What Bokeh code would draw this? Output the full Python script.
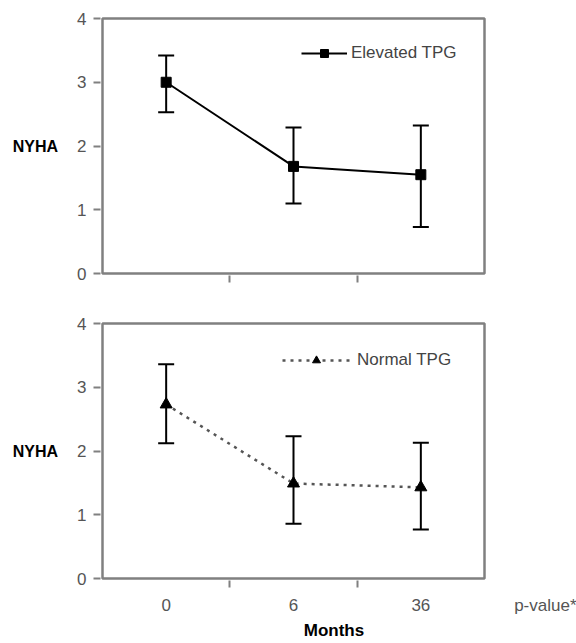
from bokeh.plotting import figure
from bokeh.layouts import column
from bokeh.models import (ColumnDataSource, Whisker, TeeHead, Range1d, FixedTicker,
                          Legend, LegendItem, BoxAnnotation)
from bokeh.embed import file_html
from bokeh.resources import INLINE

# ---- data ----
months = ["0", "6", "36"]
elevated_mean = [3.00, 1.68, 1.55]
elevated_lower = [2.53, 1.10, 0.73]
elevated_upper = [3.42, 2.29, 2.32]
normal_mean = [2.73, 1.49, 1.43]
normal_lower = [2.12, 0.86, 0.77]
normal_upper = [3.36, 2.23, 2.13]
y_ticks = [0, 1, 2, 3, 4]
pvalue_label = "p-value*"

FONT = "Liberation Sans"
xs = list(range(len(months)))
Y_MAX = y_ticks[-1]

# layout constants (pixels)
W = 576
BOX_W = 382            # width of the boxed plot area
BOX_H = 255            # height of the boxed plot area
PAD = 2                # frame extends this far beyond the box so its border is not clipped
PPU_X = BOX_W / len(months)
PPU_Y = BOX_H / Y_MAX
LEFT = 102 - PAD
RIGHT = 9
FRAME_W = W - LEFT - RIGHT
FRAME_H = BOX_H + 2 * PAD
X0 = -0.5 - PAD / PPU_X
X1 = X0 + FRAME_W / PPU_X
BORDER = "#808080"


def make_panel(height, top, mean, lower, upper, marker, dashed, legend_text,
               glyph_w, standoff, legend_loc, bottom_labels):
    p = figure(width=W, height=height, output_backend="svg", toolbar_location=None,
               x_range=Range1d(X0, X1),
               y_range=Range1d(-PAD / PPU_Y, Y_MAX + PAD / PPU_Y),
               min_border_left=LEFT, min_border_right=RIGHT,
               min_border_top=top, min_border_bottom=height - top - FRAME_H)
    p.outline_line_color = None
    p.xgrid.visible = False
    p.ygrid.visible = False
    p.add_layout(BoxAnnotation(left=-0.5, right=len(months) - 0.5, bottom=0,
                               top=Y_MAX, fill_alpha=0, line_color=BORDER,
                               line_alpha=1, line_width=2.5))

    ya = p.yaxis[0]
    ya.ticker = FixedTicker(ticks=y_ticks)
    ya.axis_line_color = None
    ya.major_tick_out = 5 + PAD
    ya.major_tick_in = 0
    ya.major_tick_line_color = BORDER
    ya.major_tick_line_width = 2
    ya.minor_tick_line_color = None
    ya.major_label_text_font = FONT
    ya.major_label_text_font_size = "17px"
    ya.major_label_text_color = "#555555"
    ya.major_label_standoff = 7
    ya.axis_label = "NYHA"
    ya.axis_label_orientation = "horizontal"
    ya.axis_label_text_font = FONT
    ya.axis_label_text_font_style = "bold"
    ya.axis_label_text_font_size = "16px"
    ya.axis_label_text_color = "black"
    ya.axis_label_standoff = 16

    xa = p.xaxis[0]
    xa.axis_line_color = None
    xa.major_tick_out = 0
    xa.major_tick_in = 0
    xa.minor_tick_out = 5 + PAD
    xa.minor_tick_in = 0
    xa.minor_tick_line_color = BORDER
    xa.minor_tick_line_width = 2
    boundaries = [i + 0.5 for i in xs[:-1]]
    if bottom_labels:
        xa.ticker = FixedTicker(ticks=xs + [len(months)], minor_ticks=boundaries)
        labels = {i: m for i, m in zip(xs, months)}
        labels[len(months)] = pvalue_label
        xa.major_label_overrides = labels
        xa.major_label_text_font = FONT
        xa.major_label_text_font_size = "17px"
        xa.major_label_text_color = "#555555"
        xa.major_label_standoff = 8
        xa.axis_label = "Months"
        xa.axis_label_text_font = FONT
        xa.axis_label_text_font_style = "bold"
        xa.axis_label_text_font_size = "17px"
        xa.axis_label_text_color = "black"
        xa.axis_label_standoff = 3
    else:
        xa.ticker = FixedTicker(ticks=[], minor_ticks=boundaries)

    src = ColumnDataSource(dict(x=xs, y=mean, lower=lower, upper=upper))
    if dashed:
        ln = p.line("x", "y", source=src, line_color="#555555", line_width=2.5,
                    line_dash="3 5")
    else:
        ln = p.line("x", "y", source=src, line_color="black", line_width=2)
    mk = p.scatter("x", "y", source=src, marker=marker,
                   size=12 if marker == "triangle" else 10,
                   fill_color="black", line_color="black")
    p.add_layout(Whisker(base="x", upper="upper", lower="lower", source=src,
                         line_color="black", line_width=2,
                         upper_head=TeeHead(size=16, line_color="black", line_width=2),
                         lower_head=TeeHead(size=16, line_color="black", line_width=2)))
    leg = Legend(items=[LegendItem(label=legend_text, renderers=[ln, mk])],
                 location=legend_loc, padding=0, margin=0, spacing=0,
                 glyph_width=glyph_w, glyph_height=20, label_height=20,
                 label_standoff=standoff, border_line_alpha=0,
                 background_fill_alpha=0, label_text_font=FONT,
                 label_text_font_size="17px", label_text_color="#444444")
    p.add_layout(leg)
    return p


# top panel: box spans y 18..273 ; bottom panel: box spans y 323..578
p1 = make_panel(292, 18 - PAD, elevated_mean, elevated_lower, elevated_upper,
                "square", False, "Elevated TPG", 46, 4, (201, 212), False)
p2 = make_panel(351, 323 - 292 - PAD, normal_mean, normal_lower, normal_upper,
                "triangle", True, "Normal TPG", 68, 7, (182, 210), True)

layout = column(p1, p2, spacing=0)
open("out.html", "w").write(file_html(layout, INLINE))
